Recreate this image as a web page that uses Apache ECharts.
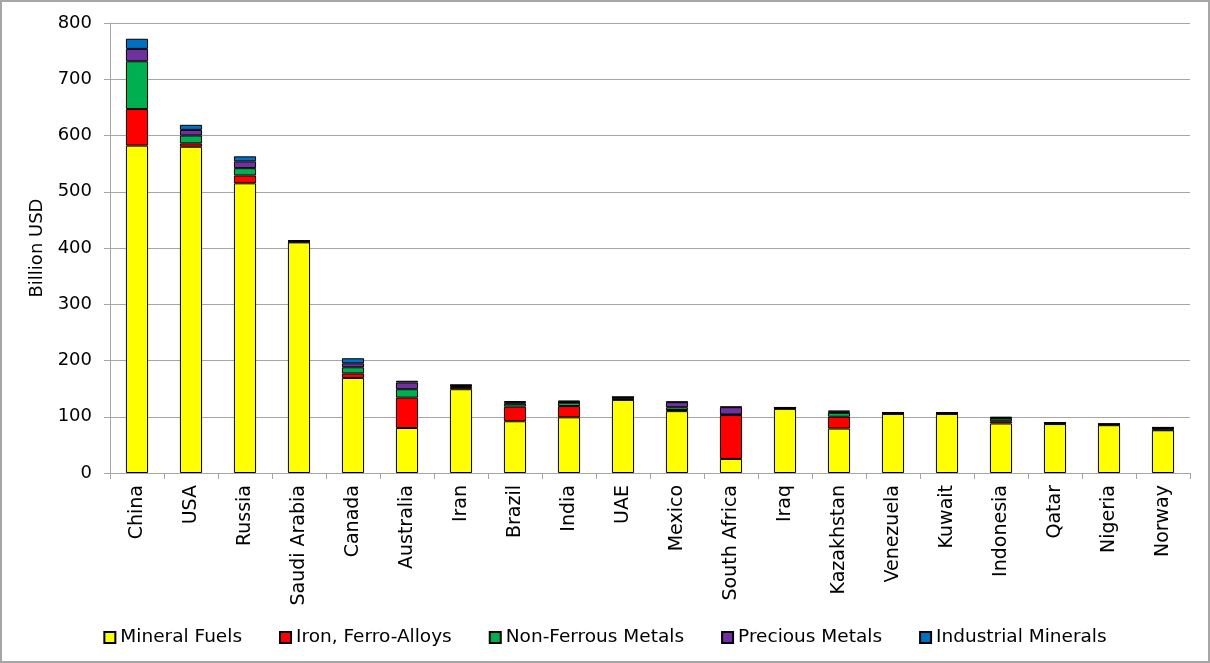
<!DOCTYPE html>
<html><head><meta charset="utf-8">
<script src="https://cdn.jsdelivr.net/npm/echarts@6/dist/echarts.min.js"></script>
<style>html,body{margin:0;padding:0;background:#fff}#c{width:1210px;height:663px;box-sizing:border-box;border:2px solid #a6a6a6}</style>
</head><body><div id="c"></div>
<script>
const categories = ["China","USA","Russia","Saudi Arabia","Canada","Australia","Iran","Brazil","India","UAE","Mexico","South Africa","Iraq","Kazakhstan","Venezuela","Kuwait","Indonesia","Qatar","Nigeria","Norway"];
const mineralFuels      = [582,580,515,410,169,80,149,92,99,130,110,25,114,79,105,105,88,87,85,76];
const ironFerroAlloys   = [65,6,14,1,8,54,4,26,20,1,2,78,1,21,1,1,4,1,1,1];
const nonFerrousMetals  = [85,14,13,1,11,15,2,5,6,3,5,1,1,7,0.5,0.5,5,1,0.5,3];
const preciousMetals    = [22,10,12,0.5,7,12,1,3,1,1,9,13,0,2,0.5,0.5,1,0,0.5,0.5];
const industrialMinerals= [18,9,9,1,9,3,1,2,3,0,1,1,1,2,0.5,0.5,2,1,0.5,1];
const yTicks = [0,100,200,300,400,500,600,700,800];

const font = "DejaVu Sans";
const mk = (name, data, color) => ({
  name, type: 'bar', stack: 'total', data, barWidth: '41%',
  itemStyle: { color, borderColor: '#000', borderWidth: 1 },
  emphasis: { disabled: true }
});
const chart = echarts.init(document.getElementById('c'));
chart.setOption({
  animation: false,
  textStyle: { fontFamily: font },
  grid: { left: 108, right: 18, top: 21, bottom: 188, containLabel: false },
  legend: {
    bottom: 9, left: 'center', itemWidth: 11, itemHeight: 11, itemGap: 37,
    icon: 'rect',
    textStyle: { fontFamily: font, fontSize: 18.5, color: '#000' },
    data: ['Mineral Fuels','Iron, Ferro-Alloys','Non-Ferrous Metals','Precious Metals','Industrial Minerals']
  },
  xAxis: {
    type: 'category', data: categories,
    axisLine: { lineStyle: { color: '#a6a6a6', width: 1 } },
    axisTick: { show: true, length: 6, lineStyle: { color: '#a6a6a6' } },
    axisLabel: { rotate: 90, interval: 0, fontSize: 19, color: '#000', fontFamily: font, margin: 12 }
  },
  yAxis: {
    type: 'value', min: 0, max: 800, interval: 100,
    name: 'Billion USD', nameLocation: 'middle', nameGap: 64, nameRotate: 90,
    nameTextStyle: { fontSize: 18, color: '#000', fontFamily: font },
    axisLine: { show: true, lineStyle: { color: '#a6a6a6' } },
    axisTick: { show: true, length: 6, inside: false, lineStyle: { color: '#a6a6a6' } },
    axisLabel: { fontSize: 18, color: '#000', fontFamily: font, margin: 18,
      formatter: v => yTicks.includes(v) ? String(v) : '' },
    splitLine: { lineStyle: { color: '#a6a6a6', width: 1 } }
  },
  series: [
    mk('Mineral Fuels', mineralFuels, '#ffff00'),
    mk('Iron, Ferro-Alloys', ironFerroAlloys, '#ff0000'),
    mk('Non-Ferrous Metals', nonFerrousMetals, '#00b050'),
    mk('Precious Metals', preciousMetals, '#7030a0'),
    mk('Industrial Minerals', industrialMinerals, '#0070c0')
  ]
});
</script></body></html>
